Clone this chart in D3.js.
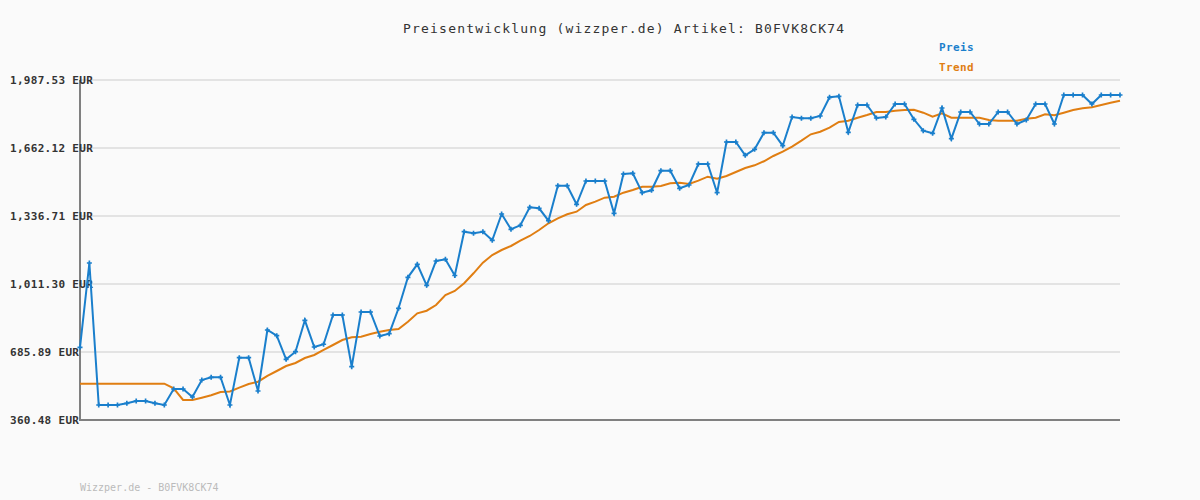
<!DOCTYPE html>
<html>
<head>
<meta charset="utf-8">
<script src="https://cdn.jsdelivr.net/npm/d3@7"></script>
<style>
  body { margin: 0; background: #fafafa; }
  svg text { font-family: "DejaVu Sans Mono", monospace; }
</style>
</head>
<body>
<div id="chart"></div>
<script>

// price per observation (EUR)
var preis = [
    708.4, 1111.8, 432.3, 432.3, 432.3, 440.4, 451.4, 451.4, 440.4, 432.3,
    508.8, 508.8, 470.5, 551.9, 564.8, 564.8, 432.3, 658.6, 658.6, 499.3,
    791.2, 763.9, 651.0, 687.3, 837.6, 709.8, 722.8, 863.0, 863.0, 615.6,
    877.3, 877.3, 762.5, 773.5, 895.0, 1043.4, 1105.6, 1005.1, 1121.4, 1129.5,
    1052.0, 1261.6, 1253.9, 1261.6, 1220.4, 1346.3, 1273.1, 1292.2, 1378.4, 1373.6,
    1314.2, 1481.7, 1481.7, 1392.7, 1504.2, 1504.2, 1504.2, 1349.6, 1537.7, 1541.1,
    1448.2, 1459.7, 1553.5, 1553.5, 1469.3, 1485.1, 1585.6, 1585.6, 1448.2, 1690.8,
    1690.8, 1627.2, 1655.9, 1735.4, 1735.4, 1673.1, 1810.5, 1804.2, 1804.2, 1815.3,
    1904.7, 1909.5, 1737.3, 1867.9, 1867.9, 1805.7, 1810.5, 1872.7, 1872.7, 1799.5,
    1744.9, 1732.5, 1853.6, 1706.6, 1834.4, 1834.4, 1777.0, 1777.0, 1834.4, 1834.4,
    1777.0, 1796.1, 1872.7, 1872.7, 1777.0, 1915.8, 1915.8, 1915.8, 1872.7, 1915.8,
    1915.8, 1915.8
];

// trend line (EUR)
var trend = [
    534.2, 534.2, 534.2, 534.2, 534.2, 534.2, 534.2, 534.2, 534.2, 534.2,
    512.2, 456.2, 456.2, 467.2, 478.7, 494.5, 496.9, 515.1, 532.8, 543.8,
    571.1, 595.0, 618.9, 633.3, 657.2, 671.6, 695.5, 719.4, 743.3, 756.3,
    759.1, 772.0, 783.0, 791.2, 796.0, 830.9, 871.1, 883.5, 910.8, 958.7,
    977.8, 1014.7, 1062.5, 1113.2, 1150.1, 1174.0, 1193.2, 1218.5, 1241.0, 1269.7,
    1301.8, 1325.7, 1344.9, 1357.3, 1389.4, 1405.2, 1424.3, 1429.1, 1448.2, 1461.2,
    1476.9, 1476.9, 1480.3, 1493.2, 1496.1, 1489.9, 1505.7, 1524.8, 1515.2, 1528.1,
    1547.3, 1566.4, 1579.3, 1598.5, 1623.9, 1644.4, 1668.4, 1697.1, 1727.7, 1740.1,
    1759.3, 1786.6, 1792.8, 1807.1, 1820.1, 1834.4, 1834.4, 1840.6, 1844.0, 1845.4,
    1831.1, 1811.9, 1828.2, 1807.1, 1807.1, 1807.1, 1807.1, 1796.1, 1792.8, 1792.8,
    1792.8, 1802.3, 1807.1, 1823.4, 1818.6, 1831.1, 1844.0, 1852.1, 1856.9, 1867.9,
    1878.9, 1888.5
];

// y axis ticks
var tick_values = [ 360.48, 685.89, 1011.30, 1336.71, 1662.12, 1987.53 ];

var series_names = [ "Preis", "Trend" ];
var series_colors = [ "#1a7fcc", "#e07e12" ];

var title_text = "Preisentwicklung (wizzper.de) Artikel: B0FVK8CK74";
var footer_text = "Wizzper.de - B0FVK8CK74";

// --------------------------------------------------------

var chart_width  = 1200;
var chart_height = 500;
var plot_left = 80, plot_right = 1120, plot_top = 80, plot_bottom = 420;

var svg = d3.select("#chart")
    .append("svg")
    .attr("width", chart_width)
    .attr("height", chart_height);

svg.append("rect")
    .attr("width", chart_width)
    .attr("height", chart_height)
    .attr("fill", "#fafafa");

// --------------------------------------------------------

var x_scale = d3.scaleLinear()
    .domain([0, preis.length - 1])
    .range([plot_left, plot_right]);

var y_scale = d3.scaleLinear()
    .domain([tick_values[0], tick_values[tick_values.length - 1]])
    .range([plot_bottom, plot_top]);

var fmt = d3.format(",.2f");

// grid lines
svg.selectAll(".grid")
    .data(tick_values)
    .enter()
    .append("line")
    .attr("x1", plot_left)
    .attr("x2", plot_right)
    .attr("y1", (d) => y_scale(d))
    .attr("y2", (d) => y_scale(d))
    .attr("stroke", "#e3e3e3")
    .attr("stroke-width", 2);

// axes
svg.append("line")
    .attr("x1", plot_left).attr("x2", plot_left)
    .attr("y1", plot_top).attr("y2", plot_bottom + 1)
    .attr("stroke", "#808080").attr("stroke-width", 2);
svg.append("line")
    .attr("x1", plot_left).attr("x2", plot_right)
    .attr("y1", plot_bottom).attr("y2", plot_bottom)
    .attr("stroke", "#808080").attr("stroke-width", 2);

// tick labels
svg.selectAll(".ylab")
    .data(tick_values)
    .enter()
    .append("text")
    .attr("x", 10)
    .attr("y", (d) => y_scale(d) + 4)
    .attr("font-size", "11px")
    .attr("font-weight", "bold")
    .attr("letter-spacing", "0.3px")
    .attr("fill", "#333")
    .text((d) => fmt(d) + " EUR");

// --------------------------------------------------------

var line = d3.line()
    .x((d, i) => x_scale(i))
    .y((d) => y_scale(d));

svg.append("path")
    .datum(trend)
    .attr("d", line)
    .attr("fill", "none")
    .attr("stroke", series_colors[1])
    .attr("stroke-width", 2);

svg.append("path")
    .datum(preis)
    .attr("d", line)
    .attr("fill", "none")
    .attr("stroke", series_colors[0])
    .attr("stroke-width", 2);

// small cross markers on price points
var cross = d3.symbol().type(d3.symbolCross).size(14);
svg.selectAll(".pt")
    .data(preis)
    .enter()
    .append("path")
    .attr("d", cross)
    .attr("transform", (d, i) => "translate(" + x_scale(i) + "," + y_scale(d) + ")")
    .attr("fill", series_colors[0]);

// --------------------------------------------------------

// title
svg.append("text")
    .attr("x", 403)
    .attr("y", 33)
    .attr("font-size", "13px")
    .attr("letter-spacing", "1.2px")
    .attr("fill", "#333")
    .text(title_text);

// legend
svg.selectAll(".leg")
    .data(series_names)
    .enter()
    .append("text")
    .attr("x", 939)
    .attr("y", (d, i) => 51 + i * 20)
    .attr("font-size", "11px")
    .attr("font-weight", "bold")
    .attr("letter-spacing", "0.4px")
    .attr("fill", (d, i) => series_colors[i])
    .text((d) => d);

// footer
svg.append("text")
    .attr("x", 80)
    .attr("y", 491)
    .attr("font-size", "10px")
    .attr("fill", "#bbbbbb")
    .text(footer_text);

</script>
</body>
</html>
